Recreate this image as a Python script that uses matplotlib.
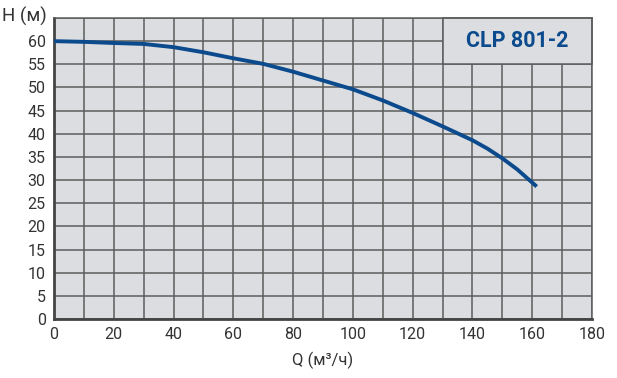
import matplotlib.pyplot as plt
from matplotlib.patches import Rectangle

q_values = [0, 10, 20, 30, 40, 50, 60, 70, 80, 90, 100, 110, 120, 130, 140, 145, 150, 155, 161.5]
h_values = [60, 59.85, 59.6, 59.4, 58.7, 57.6, 56.3, 55.1, 53.4, 51.5, 49.6, 47.2, 44.5, 41.6, 38.6, 36.8, 34.7, 32.3, 28.6]
x_ticks = list(range(0, 181, 20))
y_ticks = list(range(0, 61, 5))
title = 'CLP 801-2'

bg = '#dcdde0'
grid_c = '#5c5c5c'
blue = '#0b4a8c'
txt = '#333333'

plt.rcParams['font.family'] = ['Roboto', 'DejaVu Sans']

fig = plt.figure(figsize=(6.17, 3.78), dpi=100)
ax = fig.add_axes([54 / 617, 1 - 319 / 378, 538 / 617, 301 / 378])
ax.set_facecolor(bg)

ax.set_xlim(0, 180)
ax.set_ylim(0, 65)
ax.set_xticks(range(0, 181, 10))
ax.set_yticks(range(0, 66, 5))
ax.set_xticklabels([str(v) if v in x_ticks else '' for v in range(0, 181, 10)])
ax.set_yticklabels([str(v) if v in y_ticks else '' for v in range(0, 66, 5)])
ax.grid(True, color=grid_c, linewidth=1.1, zorder=1)
ax.set_axisbelow(True)
ax.tick_params(length=0, labelsize=11.5, colors=txt, pad=6)

for side in ['top', 'right']:
    ax.spines[side].set_color(grid_c)
    ax.spines[side].set_linewidth(1.1)
for side in ['left', 'bottom']:
    ax.spines[side].set_color('#444444')
    ax.spines[side].set_linewidth(2)

# title box in the top right corner
ax.add_patch(Rectangle((130, 55), 50, 10, facecolor=bg, edgecolor=grid_c,
                       linewidth=1.1, zorder=2, clip_on=False))
ax.text(155, 60, title, ha='center', va='center', fontsize=15.5, fontweight='bold',
        color=blue, zorder=3)

ax.plot(q_values, h_values, color=blue, linewidth=2.8, solid_capstyle='butt',
        solid_joinstyle='round', zorder=4)

fig.text(2 / 617, 1 - 16 / 378, 'H (м)', ha='left', va='center', fontsize=13.5, color=txt)
fig.text((54 + 269) / 617, 1 - 360 / 378, 'Q (м³/ч)', ha='center', va='center', fontsize=12, color=txt)

fig.savefig('out.png', dpi=100)
